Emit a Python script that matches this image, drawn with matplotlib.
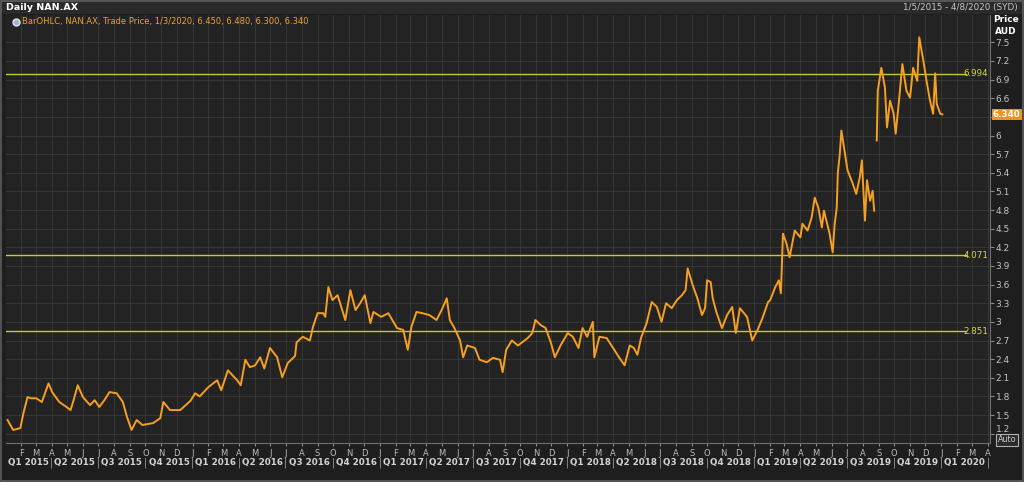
import matplotlib
matplotlib.use('Agg')
import matplotlib.pyplot as plt
import matplotlib.dates as mdates
import matplotlib.transforms as mtransforms
from matplotlib.patches import Rectangle
import numpy as np
import pandas as pd

# daily NAN.AX close (nan = no trades)
trade_dates = [
    "2015-01-05", "2015-01-16", "2015-01-30", "2015-02-05", "2015-02-13", "2015-02-20",
    "2015-03-02", "2015-03-13", "2015-03-26", "2015-04-02", "2015-04-16", "2015-04-30",
    "2015-05-08", "2015-05-15", "2015-05-22", "2015-06-01", "2015-06-15", "2015-06-24",
    "2015-07-03", "2015-07-13", "2015-07-23", "2015-08-06", "2015-08-18", "2015-08-26",
    "2015-09-04", "2015-09-14", "2015-09-25", "2015-10-16", "2015-10-30", "2015-11-05",
    "2015-11-18", "2015-12-08", "2015-12-28", "2016-01-06", "2016-01-15", "2016-02-01",
    "2016-02-18", "2016-02-26", "2016-03-10", "2016-03-28", "2016-04-04", "2016-04-13",
    "2016-04-22", "2016-05-02", "2016-05-12", "2016-05-20", "2016-05-31", "2016-06-14",
    "2016-06-24", "2016-07-05", "2016-07-19", "2016-07-22", "2016-08-03", "2016-08-17",
    "2016-08-23", "2016-09-01", "2016-09-12", "2016-09-16", "2016-09-22", "2016-09-30",
    "2016-10-10", "2016-10-19", "2016-10-25", "2016-11-04", "2016-11-14", "2016-11-23",
    "2016-12-02", "2016-12-13", "2016-12-19", "2017-01-03", "2017-01-17", "2017-02-03",
    "2017-02-15", "2017-02-24", "2017-03-03", "2017-03-13", "2017-03-24", "2017-04-07",
    "2017-04-21", "2017-05-01", "2017-05-11", "2017-05-17", "2017-05-26", "2017-06-06",
    "2017-06-12", "2017-06-20", "2017-07-05", "2017-07-14", "2017-07-28", "2017-08-09",
    "2017-08-23", "2017-08-28", "2017-09-04", "2017-09-15", "2017-09-27", "2017-10-16",
    "2017-10-25", "2017-10-31", "2017-11-10", "2017-11-20", "2017-11-30", "2017-12-08",
    "2017-12-19", "2018-01-02", "2018-01-12", "2018-01-23", "2018-01-31", "2018-02-09",
    "2018-02-20", "2018-02-23", "2018-03-05", "2018-03-19", "2018-03-30", "2018-04-13",
    "2018-04-23", "2018-05-03", "2018-05-11", "2018-05-18", "2018-05-25", "2018-06-05",
    "2018-06-15", "2018-06-25", "2018-07-04", "2018-07-13", "2018-07-24", "2018-08-03",
    "2018-08-13", "2018-08-20", "2018-08-24", "2018-09-03", "2018-09-12", "2018-09-21",
    "2018-09-27", "2018-10-01", "2018-10-08", "2018-10-12", "2018-10-19", "2018-10-30",
    "2018-11-09", "2018-11-19", "2018-11-26", "2018-12-04", "2018-12-18", "2018-12-28",
    "2019-01-07", "2019-01-17", "2019-01-28", "2019-02-01", "2019-02-11", "2019-02-18",
    "2019-02-22", "2019-02-25", "2019-02-26", "2019-03-05", "2019-03-11", "2019-03-21",
    "2019-04-01", "2019-04-05", "2019-04-15", "2019-04-23", "2019-04-29", "2019-05-06",
    "2019-05-13", "2019-05-17", "2019-05-28", "2019-06-03", "2019-06-07", "2019-06-11",
    "2019-06-13", "2019-06-17", "2019-06-20", "2019-06-26", "2019-07-02", "2019-07-12",
    "2019-07-19", "2019-07-26", "2019-07-30", "2019-08-05", "2019-08-09", "2019-08-15",
    "2019-08-20", "2019-08-23", "2019-08-26", "2019-08-28", "2019-08-30", "2019-09-06",
    "2019-09-13", "2019-09-17", "2019-09-23", "2019-09-30", "2019-10-04", "2019-10-11",
    "2019-10-17", "2019-10-25", "2019-11-01", "2019-11-07", "2019-11-15", "2019-11-19",
    "2019-11-27", "2019-12-04", "2019-12-10", "2019-12-16", "2019-12-20", "2019-12-23",
    "2019-12-30", "2020-01-03",
]
close = [
    1.42, 1.26, 1.29, 1.53, 1.79, 1.77,
    1.77, 1.71, 2.01, 1.87, 1.71, 1.63,
    1.58, 1.77, 1.98, 1.79, 1.66, 1.74,
    1.63, 1.74, 1.87, 1.85, 1.71, 1.47,
    1.26, 1.42, 1.34, 1.37, 1.45, 1.71,
    1.58, 1.58, 1.73, 1.85, 1.80, 1.95,
    2.06, 1.90, 2.22, 2.06, 1.98, 2.39,
    2.27, 2.30, 2.43, 2.25, 2.58, 2.43,
    2.11, 2.34, 2.45, 2.67, 2.76, 2.70,
    2.92, 3.14, 3.14, 3.08, 3.56, 3.35,
    3.43, 3.19, 3.03, 3.51, 3.19, 3.30,
    3.43, 2.98, 3.16, 3.08, 3.14, 2.90,
    2.87, 2.55, 2.92, 3.16, 3.14, 3.11,
    3.03, 3.19, 3.38, 3.03, 2.90, 2.70,
    2.43, 2.62, 2.58, 2.39, 2.35, 2.42,
    2.39, 2.19, 2.55, 2.70, 2.62, 2.74,
    2.82, 3.03, 2.95, 2.90, 2.67, 2.43,
    2.62, 2.82, 2.76, 2.58, 2.90, 2.76,
    3.00, 2.43, 2.76, 2.74, 2.60, 2.42,
    2.30, 2.62, 2.58, 2.47, 2.74, 2.98,
    3.32, 3.24, 3.00, 3.30, 3.22, 3.35,
    3.43, 3.51, 3.86, 3.59, 3.38, 3.11,
    3.22, 3.67, 3.64, 3.38, 3.16, 2.90,
    3.11, 3.24, 2.82, 3.22, 3.08, 2.70,
    2.86, 3.06, 3.32, 3.35, 3.56, 3.67,
    3.46, 4.20, 4.42, 4.26, 4.04, 4.47,
    4.36, 4.58, 4.47, 4.68, 5.00, 4.84,
    4.52, 4.79, 4.42, 4.12, 4.58, 4.84,
    5.39, 5.71, 6.08, 5.76, 5.44, 5.23,
    5.06, 5.33, 5.60, 4.63, 5.28, 4.95,
    5.11, 4.79, np.nan, 5.92, 6.72, 7.09,
    6.77, 6.13, 6.56, 6.35, 6.03, 6.61,
    7.15, 6.72, 6.61, 7.09, 6.88, 7.58,
    7.20, 6.84, 6.56, 6.35, 7.00, 6.51,
    6.35, 6.34,
]

levels = [6.994, 4.071, 2.851]
y_ticks = [1.2, 1.5, 1.8, 2.1, 2.4, 2.7, 3, 3.3, 3.6, 3.9, 4.2, 4.5, 4.8,
           5.1, 5.4, 5.7, 6, 6.3, 6.6, 6.9, 7.2, 7.5]
last_price = 6.34

W, H = 1024, 482
fig = plt.figure(figsize=(10.24, 4.82), dpi=100, facecolor='#1e1e1e')
plt.rcParams['font.family'] = ['DejaVu Sans']


def fx(px):
    return px / W


def fy(py):
    return 1 - py / H


ax = fig.add_axes([fx(6), fy(443), (990 - 6) / W, (443 - 15) / H])
ax.set_facecolor('#232323')

dates = pd.to_datetime(trade_dates)
ax.plot(dates, close, color='#f5a020', lw=1.4, zorder=3)

ax.set_xlim(pd.Timestamp('2015-01-02'), pd.Timestamp('2020-04-05'))
ax.set_ylim(1.05, 7.94)

# right hand price scale
ax.yaxis.tick_right()
ax.set_yticks(y_ticks)
ax.set_yticklabels(['{:g}'.format(v) for v in y_ticks])
ax.tick_params(axis='y', colors='#8a8a8a', labelcolor='#c4c4c4',
               labelsize=6.5, length=3, pad=1)
ylabels = ax.get_yticklabels()
ylabels[y_ticks.index(6.3)].set_visible(False)
# lowest label sits a little higher, above the Auto button
ylabels[0].set_transform(ylabels[0].get_transform() +
                         mtransforms.ScaledTranslation(0, 5 / 100, fig.dpi_scale_trans))

# month letters
ax.xaxis.set_major_locator(mdates.MonthLocator())
ax.xaxis.set_major_formatter(
    plt.FuncFormatter(lambda v, pos: mdates.num2date(v).strftime('%b')[0]))
ax.tick_params(axis='x', colors='#8a8a8a', labelcolor='#bdbdbd',
               labelsize=6, length=2, pad=2)

ax.grid(True, color='#3a3a3a', lw=0.6)
ax.set_axisbelow(True)
for s in ['top', 'left']:
    ax.spines[s].set_visible(False)
for s in ['bottom', 'right']:
    ax.spines[s].set_color('#6e6e6e')

# quarter labels under the month letters
trans = mtransforms.blended_transform_factory(ax.transData, ax.transAxes)
q_starts = pd.date_range('2015-01-01', '2020-01-01', freq='QS')
for qs in q_starts:
    qe = qs + pd.offsets.QuarterBegin(startingMonth=1)
    mid = qs + (qe - qs) / 2
    ax.text(mid, -0.045, 'Q{} {}'.format(qs.quarter, qs.year), transform=trans,
            ha='center', va='center', color='#d2d2d2', fontsize=6.3,
            fontweight='bold', clip_on=False)
    ax.text(qe, -0.045, '|', transform=trans, ha='center', va='center',
            color='#a0a0a0', fontsize=7, clip_on=False)

# horizontal levels
trans_y = mtransforms.blended_transform_factory(ax.transAxes, ax.transData)
for lv in levels:
    ax.axhline(lv, xmin=0, xmax=0.976, color='#c8c832', lw=1, zorder=2)
    ax.text(0.998, lv, '{:.3f}'.format(lv), transform=trans_y, ha='right',
            va='center', color='#d8d840', fontsize=6.3)

# last price flag
ax.text(1.003, last_price, '{:.3f}'.format(last_price), transform=trans_y,
        ha='left', va='center', color='white', fontsize=6.3, fontweight='bold',
        bbox=dict(boxstyle='square,pad=0.15', fc='#f0921e', ec='none'),
        clip_on=False)

# legend line
ax.plot([0.0105], [0.984], 'o', ms=5, color='#9fb4d8', mec='#dfe6f2',
        transform=ax.transAxes, clip_on=False)
ax.text(0.016, 0.984,
        'BarOHLC, NAN.AX, Trade Price, 1/3/2020, 6.450, 6.480, 6.300, 6.340',
        transform=ax.transAxes, ha='left', va='center', color='#f0a030',
        fontsize=6)

# header strip
fig.patches.append(Rectangle((0, fy(14)), 1, 14 / H, transform=fig.transFigure,
                             fc='#2a2a2a', ec='none', zorder=0))
fig.text(fx(6), fy(7.5), 'Daily NAN.AX', color='white', fontsize=6.8,
         fontweight='bold', va='center', ha='left')
fig.text(fx(1018), fy(7.5), '1/5/2015 - 4/8/2020 (SYD)', color='#c8c8c8',
         fontsize=6.3, va='center', ha='right')
fig.text(fx(1006), fy(20), 'Price', color='white', fontsize=6.5,
         fontweight='bold', va='center', ha='center')
fig.text(fx(1006), fy(31), 'AUD', color='white', fontsize=6.5,
         fontweight='bold', va='center', ha='center')
fig.text(fx(1007), fy(440), 'Auto', color='#cccccc', fontsize=5.8,
         va='center', ha='center',
         bbox=dict(boxstyle='square,pad=0.15', fc='#2b2b2b', ec='#b0b0b0', lw=0.8))

# outer frame
fig.patches.append(Rectangle((0.001, 0.002), 0.998, 0.996, transform=fig.transFigure,
                             fc='none', ec='#5e5e5e', lw=1.2, zorder=5))

fig.savefig('out.png', dpi=100, facecolor=fig.get_facecolor())
